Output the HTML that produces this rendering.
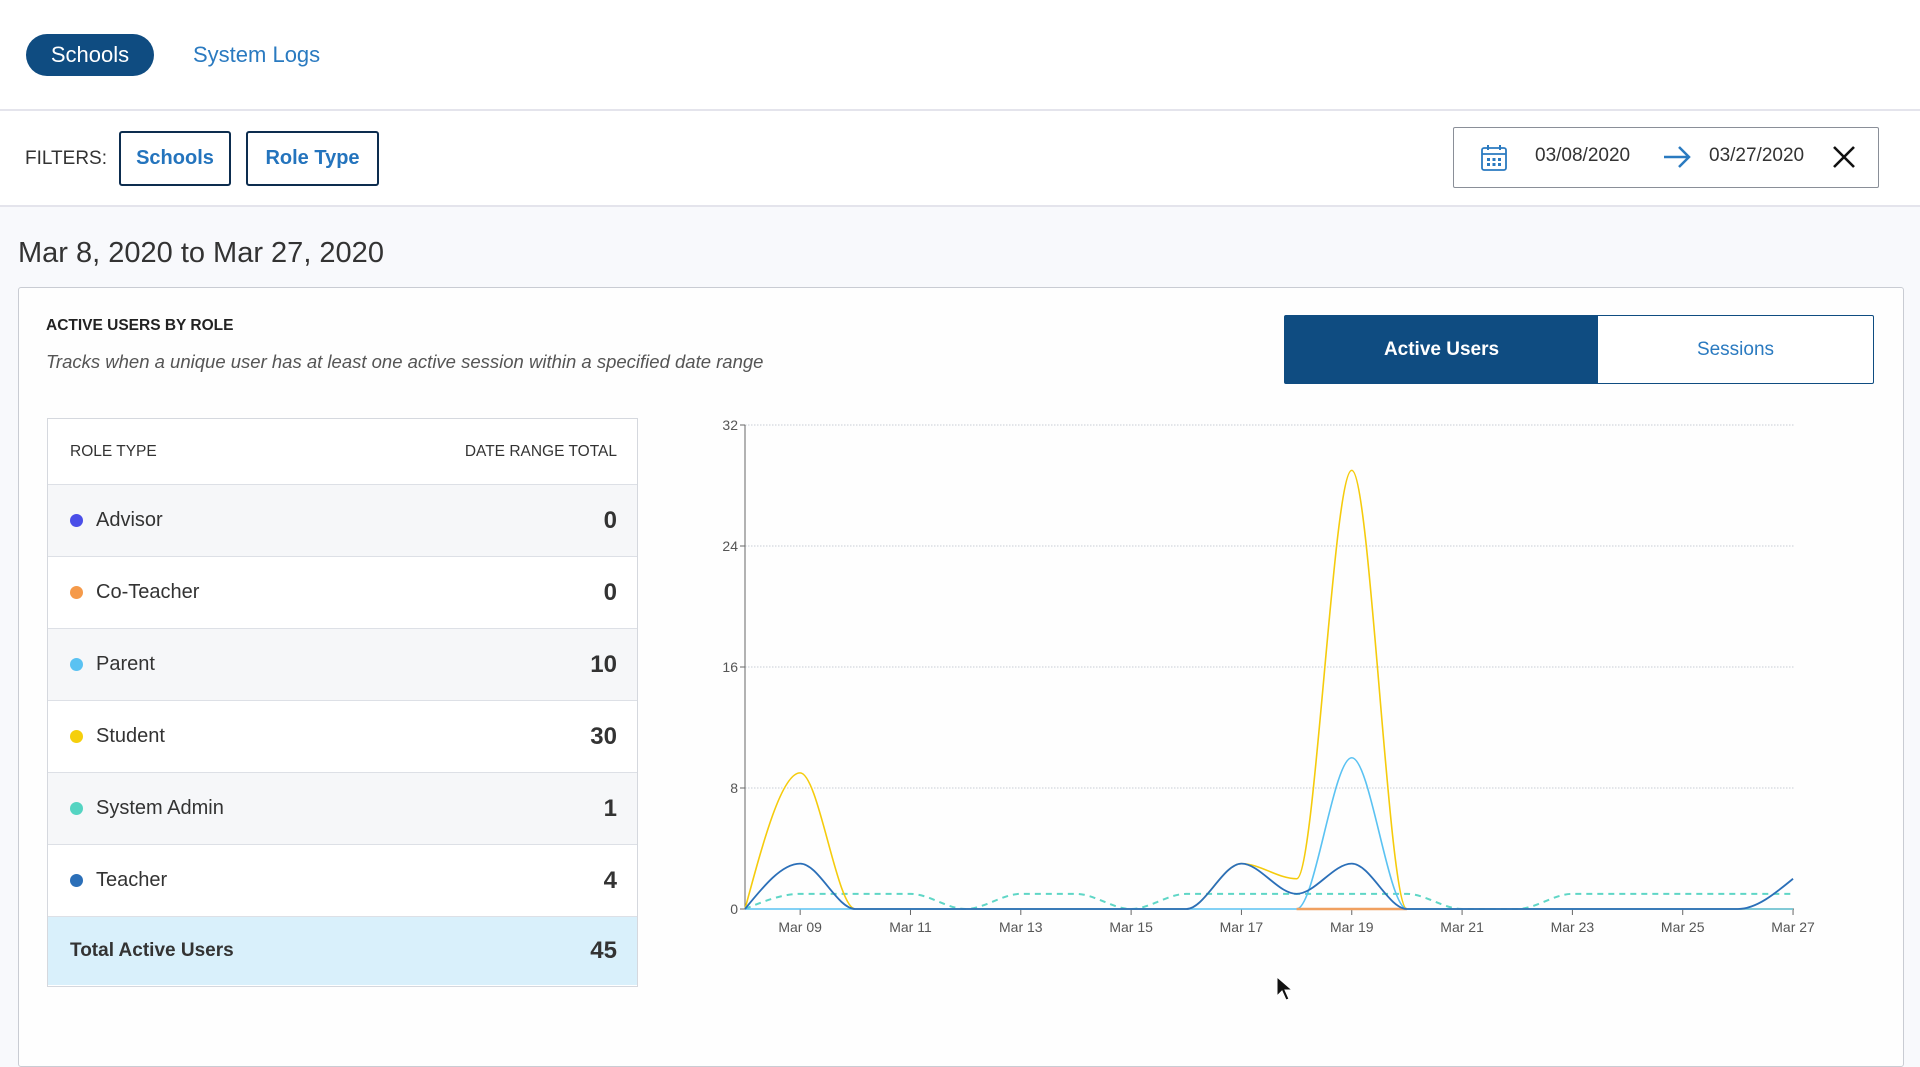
<!DOCTYPE html>
<html><head><meta charset="utf-8">
<style>
*{box-sizing:border-box;margin:0;padding:0}
body{width:1920px;height:1028px;overflow:hidden;background:#f8f9fc;font-family:"Liberation Sans",sans-serif;color:#333;position:relative}
.abs{position:absolute}
#top{left:0;top:0;width:1920px;height:111px;background:#fff;border-bottom:2px solid #e4e4ec}
#filt{left:0;top:111px;width:1920px;height:96px;background:#fff;border-bottom:2px solid #e4e4ec}
.btn{position:absolute;border:2.5px solid #0d2d4f;border-radius:3px;color:#2474bd;font-weight:bold;font-size:20px;display:flex;align-items:center;justify-content:center;background:#fff}
.row{position:absolute;left:0;width:100%;height:72px;border-top:1px solid #dde0e6;display:flex;align-items:center;padding:0 20px 0 22px;font-size:20px;color:#333}
.dot{width:13px;height:13px;border-radius:50%;margin-right:13px}
.num{margin-left:auto;font-weight:bold;font-size:24px}
</style></head><body>
<div id="top" class="abs">
 <div class="abs" style="left:26px;top:34px;width:128px;height:42px;border-radius:21px;background:#0f4c81;color:#fff;font-size:22px;display:flex;align-items:center;justify-content:center">Schools</div>
 <div class="abs" style="left:193px;top:42px;font-size:22px;color:#2a7ac0">System Logs</div>
</div>
<div id="filt" class="abs">
 <div class="abs" style="left:25px;top:37px;font-size:19px;color:#333">FILTERS:</div>
 <div class="btn" style="left:119px;top:20px;width:112px;height:55px">Schools</div>
 <div class="btn" style="left:246px;top:20px;width:133px;height:55px">Role Type</div>
 <div class="abs" style="left:1453px;top:16px;width:426px;height:61px;border:1.5px solid #8a8f98;border-radius:2px;background:#fff">
  <svg class="abs" style="left:26px;top:16px" width="28" height="28" viewBox="0 0 28 28"><rect x="2" y="4" width="24" height="22" rx="2" fill="none" stroke="#2a7ac0" stroke-width="1.8"/><line x1="2" y1="10" x2="26" y2="10" stroke="#2a7ac0" stroke-width="1.8"/><line x1="8" y1="1" x2="8" y2="6" stroke="#2a7ac0" stroke-width="2"/><line x1="20" y1="1" x2="20" y2="6" stroke="#2a7ac0" stroke-width="2"/><g fill="#2a7ac0"><rect x="7" y="14" width="3" height="3"/><rect x="12.5" y="14" width="3" height="3"/><rect x="18" y="14" width="3" height="3"/><rect x="7" y="19" width="3" height="3"/><rect x="12.5" y="19" width="3" height="3"/><rect x="18" y="19" width="3" height="3"/></g></svg>
  <div class="abs" style="left:81px;top:17px;font-size:19px;color:#333">03/08/2020</div>
  <svg class="abs" style="left:208px;top:16px" width="30" height="26"><path d="M2 13H27M17 3L27 13L17 23" fill="none" stroke="#2a7ac0" stroke-width="2.5"/></svg>
  <div class="abs" style="left:255px;top:17px;font-size:19px;color:#333">03/27/2020</div>
  <svg class="abs" style="left:378px;top:17px" width="24" height="24"><path d="M2 2L22 22M22 2L2 22" stroke="#111" stroke-width="2.6"/></svg>
 </div>
</div>
<div class="abs" style="left:18px;top:237px;font-size:29px;color:#333">Mar 8, 2020 to Mar 27, 2020</div>
<div class="abs" style="left:18px;top:287px;width:1886px;height:780px;border:1.5px solid #c9ccd3;border-radius:3px;background:#fefefe"></div>
<div class="abs" style="left:46px;top:317px;font-size:15.5px;font-weight:bold;color:#222">ACTIVE USERS BY ROLE</div>
<div class="abs" style="left:46px;top:351px;font-size:18.5px;font-style:italic;color:#555">Tracks when a unique user has at least one active session within a specified date range</div>
<div class="abs" style="left:1284px;top:315px;width:590px;height:69px;border:1.5px solid #0f4c81;border-radius:2px;background:#fff;display:flex">
 <div style="width:313px;background:#0f4c81;color:#fff;font-weight:bold;font-size:19px;display:flex;align-items:center;justify-content:center">Active Users</div>
 <div style="flex:1;color:#2a7ac0;font-size:19px;display:flex;align-items:center;justify-content:center">Sessions</div>
</div>
<div class="abs" style="left:47px;top:418px;width:591px;height:569px;border:1.5px solid #d5d8de;background:#fff">
 <div class="row" style="top:0;height:65px;border-top:none;font-size:15.5px;background:#fff"><span>ROLE TYPE</span><span style="margin-left:auto">DATE RANGE TOTAL</span></div>
 <div class="row" style="top:65px;background:#f6f7f9"><div class="dot" style="background:#4a4ee8"></div>Advisor<span class="num">0</span></div>
 <div class="row" style="top:137px;background:#fff"><div class="dot" style="background:#f59a4a"></div>Co-Teacher<span class="num">0</span></div>
 <div class="row" style="top:209px;background:#f6f7f9"><div class="dot" style="background:#5ac2f2"></div>Parent<span class="num">10</span></div>
 <div class="row" style="top:281px;background:#fff"><div class="dot" style="background:#f5cf0c"></div>Student<span class="num">30</span></div>
 <div class="row" style="top:353px;background:#f6f7f9"><div class="dot" style="background:#54d4c2"></div>System Admin<span class="num">1</span></div>
 <div class="row" style="top:425px;background:#fff"><div class="dot" style="background:#2b6fb8"></div>Teacher<span class="num">4</span></div>
 <div class="row" style="top:497px;height:69px;background:#d9f0fb;font-weight:bold;font-size:19px"><span>Total Active Users</span><span class="num">45</span></div>
</div>
<svg id="ch" class="abs" style="left:0;top:0" width="1920" height="1028"></svg>
<svg class="abs" style="left:1276px;top:976px" width="18" height="26"><path d="M1 1L1 20L6 15L10 24L13 23L9 14L16 14Z" fill="#111" stroke="#fff" stroke-width="1"/></svg>
<script>
var X0=745,DX=55.16,Y0=909,UY=15.125;
function X(i){return X0+i*DX}function Y(v){return Y0-v*UY}
function path(d){var n=d.length,m=[],t=[];
for(var k=0;k<n-1;k++)m.push(d[k+1]-d[k]);
for(var k=1;k<n-1;k++){var s0=m[k-1],s1=m[k],p=(s0+s1)/2;t[k]=(Math.sign(s0)+Math.sign(s1))*Math.min(Math.abs(s0),Math.abs(s1),0.5*Math.abs(p));}
t[0]=(3*m[0]-t[1])/2;t[n-1]=(3*m[n-2]-t[n-2])/2;
var s="M"+X(0)+","+Y(d[0]);
for(var k=0;k<n-1;k++){s+="C"+(X(k)+DX/3)+","+Y(d[k]+t[k]/3)+" "+(X(k+1)-DX/3)+","+Y(d[k+1]-t[k+1]/3)+" "+X(k+1)+","+Y(d[k+1]);}
return s;}
var o='';
[0,8,16,24,32].forEach(function(v){o+='<line x1="'+X0+'" x2="1794" y1="'+Y(v)+'" y2="'+Y(v)+'" stroke="#c8ccd4" stroke-dasharray="1.5 1.5"/>';
o+='<line x1="'+(X0-5)+'" x2="'+X0+'" y1="'+Y(v)+'" y2="'+Y(v)+'" stroke="#666"/>';
o+='<text x="'+(X0-7)+'" y="'+(Y(v)+5)+'" text-anchor="end" font-size="14" fill="#555" font-family="Liberation Sans">'+v+'</text>';});
o+='<line x1="'+X0+'" x2="'+X0+'" y1="'+Y(32)+'" y2="'+Y0+'" stroke="#666"/>';
o+='<line x1="'+X0+'" x2="1794" y1="'+Y0+'" y2="'+Y0+'" stroke="#666"/>';
var labs=['Mar 09','Mar 11','Mar 13','Mar 15','Mar 17','Mar 19','Mar 21','Mar 23','Mar 25','Mar 27'];
labs.forEach(function(l,j){var x=X(1+2*j);o+='<line x1="'+x+'" x2="'+x+'" y1="'+Y0+'" y2="'+(Y0+6)+'" stroke="#666"/><text x="'+x+'" y="'+(Y0+23)+'" text-anchor="middle" font-size="14" fill="#555" font-family="Liberation Sans">'+l+'</text>';});
var z=function(){return [0,0,0,0,0,0,0,0,0,0,0,0,0,0,0,0,0,0,0,0]};
var sa=[0,1,1,1,0,1,1,0,1,1,1,1,1,0,0,1,1,1,1,1];
var st=z();st[1]=9;st[9]=3;st[10]=2;st[11]=29;
var pa=z();pa[11]=10;
var te=z();te[1]=3;te[9]=3;te[10]=1;te[11]=3;te[19]=2;
o+='<path d="'+path(sa)+'" fill="none" stroke="#5fd6c6" stroke-width="2" stroke-dasharray="6 5"/>';
o+='<path d="'+path(st)+'" fill="none" stroke="#f5cb0c" stroke-width="1.6"/>';
o+='<path d="'+path(pa)+'" fill="none" stroke="#5ac2f2" stroke-width="1.6"/>';
o+='<line x1="'+X(10)+'" x2="'+X(12)+'" y1="'+Y0+'" y2="'+Y0+'" stroke="#f0a060" stroke-width="2.5"/>';
o+='<path d="'+path(te)+'" fill="none" stroke="#2b6fb8" stroke-width="1.8"/>';
document.getElementById('ch').innerHTML=o;
</script>
</body></html>
